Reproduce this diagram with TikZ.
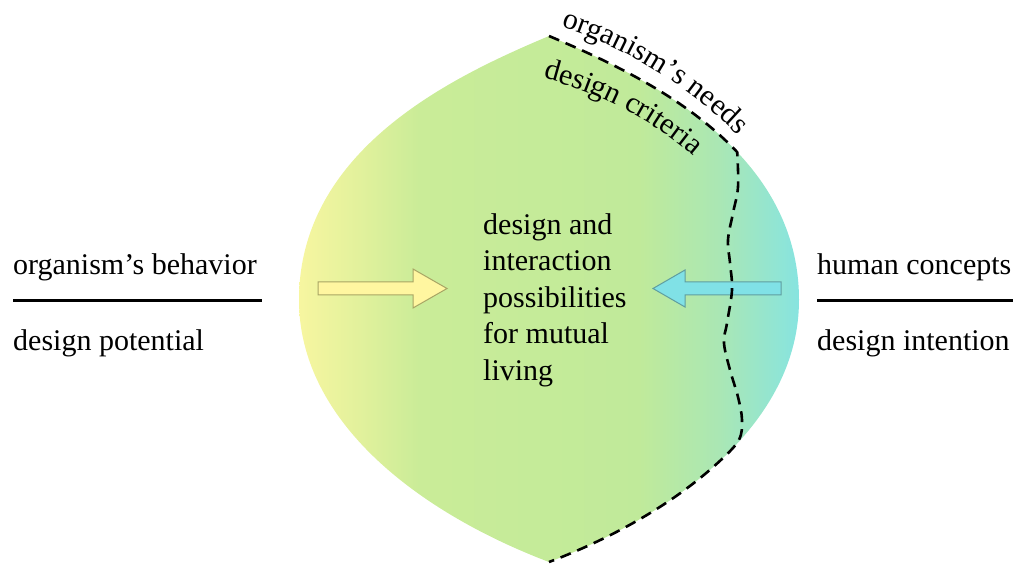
\documentclass[tikz,border=0pt]{standalone}
\usepackage{fontspec}
\setmainfont{Liberation Serif}
\usetikzlibrary{decorations.text}

% colours of the leaf gradient and the two block arrows
\definecolor{leafY}{RGB}{247,246,160}
\definecolor{leafYG}{RGB}{226,241,156}
\definecolor{leafG}{RGB}{202,236,152}
\definecolor{leafGb}{RGB}{192,234,154}
\definecolor{leafGC}{RGB}{170,231,180}
\definecolor{leafC}{RGB}{135,228,224}
\definecolor{arrYfill}{RGB}{255,246,160}
\definecolor{arrYdraw}{RGB}{168,165,100}
\definecolor{arrCfill}{RGB}{128,225,230}
\definecolor{arrCdraw}{RGB}{95,158,160}

% left-to-right gradient; the shape's bounding box covers 25bp..75bp
\pgfdeclarehorizontalshading{leaf}{100bp}{%
  color(0bp)=(leafY); color(25bp)=(leafY); color(31bp)=(leafYG);
  color(37bp)=(leafG); color(59bp)=(leafGb); color(67bp)=(leafGC);
  color(75bp)=(leafC); color(100bp)=(leafC)}

\newcommand\bigfont{\fontsize{30}{36.5}\selectfont}

\begin{document}
\begin{tikzpicture}[x=1pt,y=-1pt,
  sidetext/.style={font=\bigfont, inner sep=0pt, anchor=base west},
  rule/.style={line width=2.5pt},
  dashline/.style={line width=2.6pt, dash pattern=on 11pt off 7pt, line join=round},
  arrowY/.style={fill=arrYfill, draw=arrYdraw, line width=1pt},
  arrowC/.style={fill=arrCfill, draw=arrCdraw, line width=1pt}]
\useasboundingbox (0,0) rectangle (1021,564);

% the leaf-shaped field
\shade[shading=leaf]
  (549,36) .. controls (458,74.5) and (299,147) .. (299,300)
  .. controls (299,421.6) and (418.5,512.4) .. (549,562)
  .. controls (679.5,512.4) and (799,421.6) .. (799,300)
  .. controls (799,147) and (640,74.5) .. (549,36) -- cycle;

% block arrows pointing to the centre
\draw[arrowY] (318,282) -- (413,282) -- (413,269) -- (447,288.5)
  -- (413,308) -- (413,295) -- (318,295) -- cycle;
\draw[arrowC] (781,282) -- (685,282) -- (685,270) -- (653,288.5)
  -- (685,307) -- (685,295) -- (781,295) -- cycle;

% centre text (anchored at the baseline of its last line)
\node[sidetext, align=left] (mid) at (483,380)
  {design and\\interaction\\possibilities\\for mutual\\living};

% left label pair
\node[sidetext] (behav) at (13,275) {organism’s behavior};
\coordinate (ruleLa) at (13,300.7);
\coordinate (ruleLb) at (262,300.7);
\draw[rule] (ruleLa) -- (ruleLb);
\node[sidetext] (potential) at (13,350) {design potential};

% right label pair
\node[sidetext] (concepts) at (817,275) {human concepts};
\coordinate (ruleRa) at (817,300.7);
\coordinate (ruleRb) at (1013,300.7);
\draw[rule] (ruleRa) -- (ruleRb);
\node[sidetext] (intention) at (817,350) {design intention};

% curved labels along the upper edge
\path[decorate, decoration={text along path, text align=left,
    text={|\bigfont|organism’s needs}}]
  (561,27) .. controls (622,46) and (698,88) .. (756,155);
\path[decorate, decoration={text along path, text align=left,
    text={|\bigfont|design criteria}}]
  (543,78) .. controls (600,93) and (665,123) .. (720,181);

% dashed boundary of the design-criteria region
\draw[dashline]
  (549,36) .. controls (603.6,59.1) and (682.7,94.4) .. (737.2,152.1)
  -- plot[smooth, tension=0.6] coordinates {(737.2,152.1) (738,187) (733,213)
     (728,240) (730,263) (732,290) (727,323) (724,343) (730,370) (738,397)
     (742,420) (739,440) (723,458)}
  .. controls (676.75,502.1) and (614.25,537.2) .. (549,562);
\end{tikzpicture}
\end{document}
